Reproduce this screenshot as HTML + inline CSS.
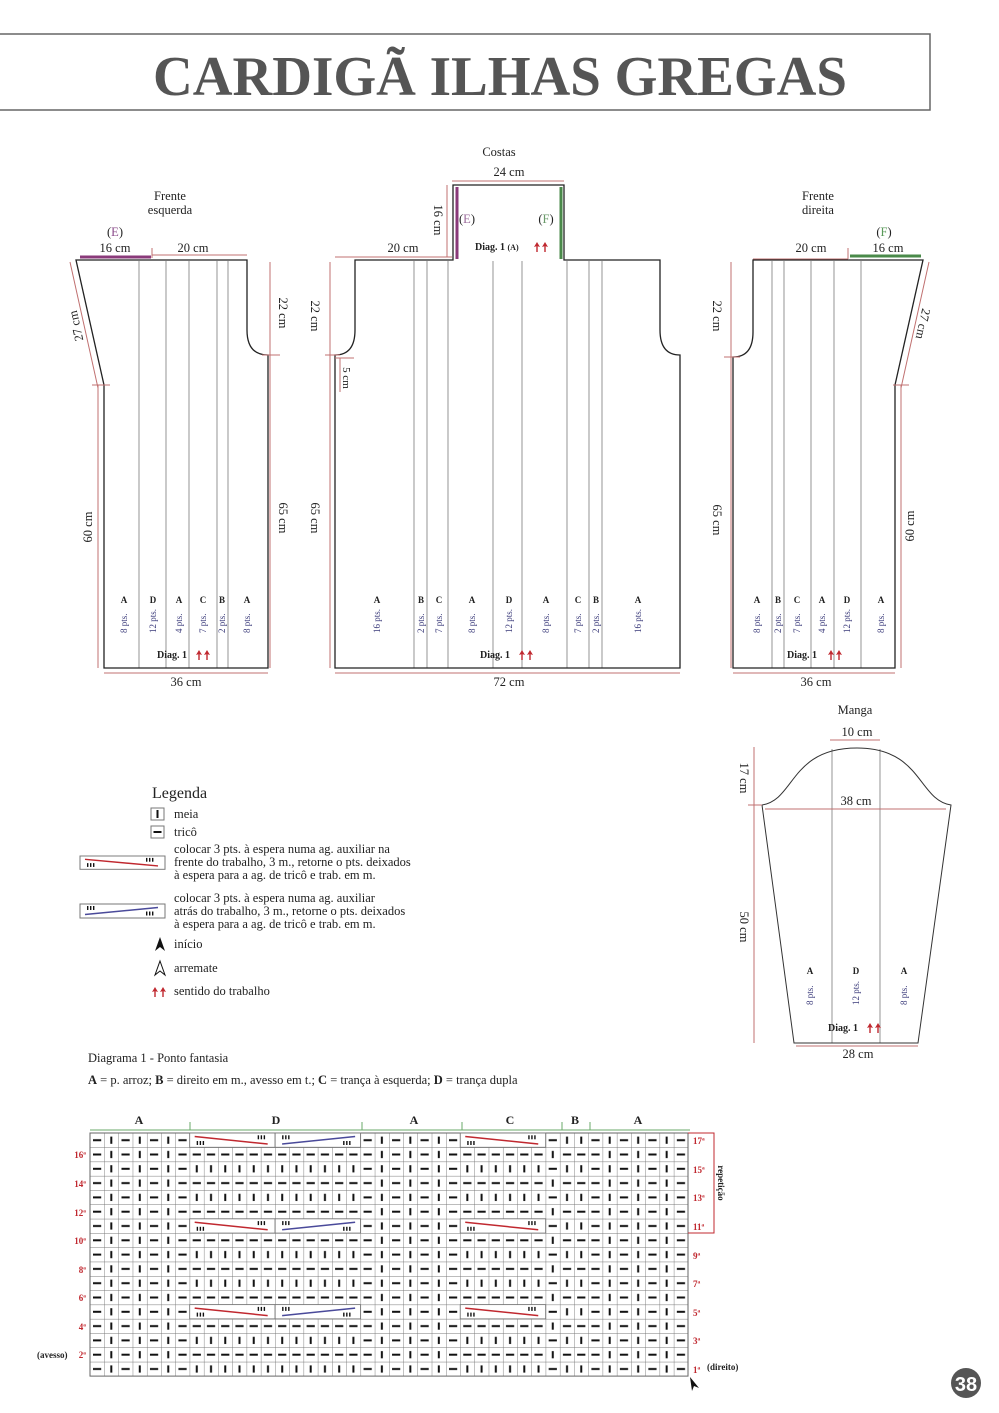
<!DOCTYPE html>
<html><head><meta charset="utf-8"><style>
html,body{margin:0;padding:0;background:#fff}
svg{display:block}
text{font-family:"Liberation Serif",serif;fill:#222}
.d{font-size:12.5px}
.b{font-weight:bold}
.p{font-size:9px;fill:#3a3a7a}
.l{font-size:9px;font-weight:bold}
.r{fill:#c0282f;font-weight:bold;font-size:9px}
</style></head><body>
<svg width="999" height="1413" viewBox="0 0 999 1413" xmlns="http://www.w3.org/2000/svg">
<defs>
<pattern id="pG" x="90" y="1133" width="14.24" height="14.3" patternUnits="userSpaceOnUse"><path d="M0,0H14.24M0,0V14.3" stroke="#777" stroke-width="0.9" fill="none"/></pattern>
<pattern id="pA0" x="90" y="1133" width="28.48" height="14.3" patternUnits="userSpaceOnUse"><rect x="3" y="6.2" width="8.2" height="2" fill="#111"/><rect x="20.3" y="3.6" width="2" height="7.2" fill="#111"/></pattern>
<pattern id="pA1" x="104.24" y="1133" width="28.48" height="14.3" patternUnits="userSpaceOnUse"><rect x="3" y="6.2" width="8.2" height="2" fill="#111"/><rect x="20.3" y="3.6" width="2" height="7.2" fill="#111"/></pattern>
<pattern id="pK" x="90" y="1133" width="14.24" height="28.6" patternUnits="userSpaceOnUse"><rect x="6.1" y="3.6" width="2" height="7.2" fill="#111"/><rect x="3" y="20.5" width="8.2" height="2" fill="#111"/></pattern>
<pattern id="pKr" x="90" y="1133" width="14.24" height="28.6" patternUnits="userSpaceOnUse"><rect x="3" y="6.2" width="8.2" height="2" fill="#111"/><rect x="6.1" y="17.9" width="2" height="7.2" fill="#111"/></pattern>
<g id="arr"><path d="M0,-5 L3,0 L0.7,-0.8 L0.7,5 L-0.7,5 L-0.7,-0.8 L-3,0 Z" fill="#c0282f"/><path d="M8,-5 L11,0 L8.7,-0.8 L8.7,5 L7.3,5 L7.3,-0.8 L5,0 Z" fill="#c0282f"/></g>
<g id="iii"><rect x="0" y="0" width="1.4" height="4" fill="#111"/><rect x="3" y="0" width="1.4" height="4" fill="#111"/><rect x="6" y="0" width="1.4" height="4" fill="#111"/></g>
<g id="cr"><rect x="0" y="0" width="85.44" height="14.3" fill="#fff" stroke="#777" stroke-width="0.9"/><line x1="5" y1="3.5" x2="78" y2="11" stroke="#c0282f" stroke-width="1.5"/><use href="#iii" x="7" y="8"/><use href="#iii" x="68" y="2.3"/></g>
<g id="cb"><rect x="0" y="0" width="85.44" height="14.3" fill="#fff" stroke="#777" stroke-width="0.9"/><line x1="7" y1="11" x2="80" y2="3.5" stroke="#4a4a9a" stroke-width="1.5"/><use href="#iii" x="7" y="2.3"/><use href="#iii" x="68" y="8"/></g>
</defs>

<!-- Title -->
<path d="M0,34 H930 V110 H0" fill="none" stroke="#666" stroke-width="1.5"/>
<text x="500" y="95" text-anchor="middle" textLength="694" lengthAdjust="spacingAndGlyphs" style="font-size:56px;font-weight:bold;fill:#555">CARDIGÃ ILHAS GREGAS</text>

<!-- ============ LEFT FRONT ============ -->
<text class="d" x="170" y="200" text-anchor="middle">Frente</text>
<text class="d" x="170" y="214" text-anchor="middle">esquerda</text>
<text class="d" x="115" y="236" text-anchor="middle"><tspan fill="#222">(</tspan><tspan style="fill:#8a4a8a">E</tspan><tspan>)</tspan></text>
<text class="d" x="115" y="252" text-anchor="middle">16 cm</text>
<text class="d" x="193" y="252" text-anchor="middle">20 cm</text>
<line x1="80" y1="257" x2="151" y2="257" stroke="#8a3a7a" stroke-width="3"/>
<line x1="152" y1="255" x2="247" y2="255" stroke="#c07070" stroke-width="1"/>
<line x1="152" y1="248" x2="152" y2="258" stroke="#c07070" stroke-width="1"/>
<g stroke="#888" stroke-width="0.9"><line x1="139" y1="261" x2="139" y2="668"/><line x1="166" y1="261" x2="166" y2="668"/><line x1="189" y1="261" x2="189" y2="668"/><line x1="217" y1="261" x2="217" y2="668"/><line x1="228" y1="261" x2="228" y2="668"/></g>
<path d="M76,260 H247 V330 Q247,355 268,355 V668 H104 V385 Z" fill="none" stroke="#222" stroke-width="1.3"/>
<g stroke="#c07070" stroke-width="1" fill="none">
<line x1="70" y1="262" x2="98" y2="388"/><line x1="92" y1="385" x2="110" y2="385"/><line x1="98" y1="385" x2="98" y2="668"/>
<line x1="270" y1="262" x2="270" y2="668"/><line x1="262" y1="355" x2="280" y2="355"/>
<line x1="104" y1="673" x2="268" y2="673"/></g>
<text class="d" transform="translate(80,325) rotate(-102.5)" text-anchor="middle">27 cm</text>
<text class="d" transform="translate(92,527) rotate(-90)" text-anchor="middle">60 cm</text>
<text class="d" transform="translate(279,313) rotate(90)" text-anchor="middle">22 cm</text>
<text class="d" transform="translate(279,518) rotate(90)" text-anchor="middle">65 cm</text>
<text class="d" x="186" y="686" text-anchor="middle">36 cm</text>
<g>
<text class="l" x="124" y="603" text-anchor="middle">A</text><text class="p" transform="translate(127,633) rotate(-90)">8 pts.</text>
<text class="l" x="153" y="603" text-anchor="middle">D</text><text class="p" transform="translate(156,633) rotate(-90)">12 pts.</text>
<text class="l" x="179" y="603" text-anchor="middle">A</text><text class="p" transform="translate(182,633) rotate(-90)">4 pts.</text>
<text class="l" x="203" y="603" text-anchor="middle">C</text><text class="p" transform="translate(206,633) rotate(-90)">7 pts.</text>
<text class="l" x="222" y="603" text-anchor="middle">B</text><text class="p" transform="translate(225,633) rotate(-90)">2 pts.</text>
<text class="l" x="247" y="603" text-anchor="middle">A</text><text class="p" transform="translate(250,633) rotate(-90)">8 pts.</text>
</g>
<text class="l" x="157" y="658" style="font-size:10px">Diag. 1</text><use href="#arr" x="199" y="655"/>

<!-- ============ BACK ============ -->
<text class="d" x="499" y="156" text-anchor="middle">Costas</text>
<text class="d" x="509" y="176" text-anchor="middle">24 cm</text>
<line x1="452" y1="181" x2="564" y2="181" stroke="#c07070"/>
<line x1="447" y1="185" x2="447" y2="257" stroke="#c07070"/>
<text class="d" transform="translate(434,220) rotate(90)" text-anchor="middle">16 cm</text>
<line x1="335" y1="257" x2="452" y2="257" stroke="#c07070"/>
<text class="d" x="403" y="252" text-anchor="middle">20 cm</text>
<g stroke="#888" stroke-width="0.9"><line x1="414" y1="261" x2="414" y2="668"/><line x1="427" y1="261" x2="427" y2="668"/><line x1="448" y1="261" x2="448" y2="668"/><line x1="493" y1="261" x2="493" y2="668"/><line x1="522" y1="261" x2="522" y2="668"/><line x1="567" y1="261" x2="567" y2="668"/><line x1="589" y1="261" x2="589" y2="668"/><line x1="602" y1="261" x2="602" y2="668"/></g>
<path d="M355,260 H453 V185 H564 V260 H660 V330 Q660,355 680,355 V668 H335 V355 Q355,355 355,330 Z" fill="none" stroke="#222" stroke-width="1.3"/>
<line x1="457" y1="187" x2="457" y2="259" stroke="#8a3a7a" stroke-width="3"/>
<line x1="561" y1="187" x2="561" y2="259" stroke="#4a8a4a" stroke-width="3"/>
<text class="d" x="467" y="223" text-anchor="middle">(<tspan style="fill:#9a6a9a">E</tspan>)</text>
<text class="d" x="546" y="223" text-anchor="middle">(<tspan style="fill:#6a9a6a">F</tspan>)</text>
<text class="l" x="475" y="250" style="font-size:10px">Diag. 1 <tspan style="font-size:8px">(A)</tspan></text><use href="#arr" x="537" y="247"/>
<g stroke="#c07070" stroke-width="1"><line x1="330" y1="262" x2="330" y2="668"/><line x1="325" y1="355" x2="340" y2="355"/><line x1="340" y1="358" x2="340" y2="392"/><line x1="335" y1="358" x2="354" y2="358"/><line x1="335" y1="673" x2="680" y2="673"/></g>
<text class="d" transform="translate(311,316) rotate(90)" text-anchor="middle">22 cm</text>
<text class="d" transform="translate(343,378) rotate(90)" text-anchor="middle" style="font-size:11px">5 cm</text>
<text class="d" transform="translate(311,518) rotate(90)" text-anchor="middle">65 cm</text>
<text class="d" x="509" y="686" text-anchor="middle">72 cm</text>
<g>
<text class="l" x="377" y="603" text-anchor="middle">A</text><text class="p" transform="translate(380,633) rotate(-90)">16 pts.</text>
<text class="l" x="421" y="603" text-anchor="middle">B</text><text class="p" transform="translate(424,633) rotate(-90)">2 pts.</text>
<text class="l" x="439" y="603" text-anchor="middle">C</text><text class="p" transform="translate(442,633) rotate(-90)">7 pts.</text>
<text class="l" x="472" y="603" text-anchor="middle">A</text><text class="p" transform="translate(475,633) rotate(-90)">8 pts.</text>
<text class="l" x="509" y="603" text-anchor="middle">D</text><text class="p" transform="translate(512,633) rotate(-90)">12 pts.</text>
<text class="l" x="546" y="603" text-anchor="middle">A</text><text class="p" transform="translate(549,633) rotate(-90)">8 pts.</text>
<text class="l" x="578" y="603" text-anchor="middle">C</text><text class="p" transform="translate(581,633) rotate(-90)">7 pts.</text>
<text class="l" x="596" y="603" text-anchor="middle">B</text><text class="p" transform="translate(599,633) rotate(-90)">2 pts.</text>
<text class="l" x="638" y="603" text-anchor="middle">A</text><text class="p" transform="translate(641,633) rotate(-90)">16 pts.</text>
</g>
<text class="l" x="480" y="658" style="font-size:10px">Diag. 1</text><use href="#arr" x="522" y="655"/>

<!-- ============ RIGHT FRONT ============ -->
<text class="d" x="818" y="200" text-anchor="middle">Frente</text>
<text class="d" x="818" y="214" text-anchor="middle">direita</text>
<text class="d" x="884" y="236" text-anchor="middle">(<tspan style="fill:#5a9a5a">F</tspan>)</text>
<text class="d" x="811" y="252" text-anchor="middle">20 cm</text>
<text class="d" x="888" y="252" text-anchor="middle">16 cm</text>
<line x1="753" y1="259" x2="848" y2="259" stroke="#c07070"/>
<line x1="848" y1="248" x2="848" y2="259" stroke="#c07070"/>
<line x1="850" y1="256" x2="921" y2="256" stroke="#4a8a4a" stroke-width="3"/>
<g stroke="#888" stroke-width="0.9"><line x1="772" y1="261" x2="772" y2="668"/><line x1="784" y1="261" x2="784" y2="668"/><line x1="811" y1="261" x2="811" y2="668"/><line x1="834" y1="261" x2="834" y2="668"/><line x1="861" y1="261" x2="861" y2="668"/></g>
<path d="M753,260 H923 L895,385 V668 H733 V357 Q753,357 753,332 Z" fill="none" stroke="#222" stroke-width="1.3"/>
<g stroke="#c07070" stroke-width="1"><line x1="731" y1="262" x2="731" y2="668"/><line x1="724" y1="357" x2="740" y2="357"/><line x1="929" y1="262" x2="901" y2="388"/><line x1="893" y1="385" x2="909" y2="385"/><line x1="901" y1="385" x2="901" y2="668"/><line x1="733" y1="673" x2="895" y2="673"/></g>
<text class="d" transform="translate(713,316) rotate(90)" text-anchor="middle">22 cm</text>
<text class="d" transform="translate(713,520) rotate(90)" text-anchor="middle">65 cm</text>
<text class="d" transform="translate(919,323) rotate(102.5)" text-anchor="middle">27 cm</text>
<text class="d" transform="translate(914,526) rotate(-90)" text-anchor="middle">60 cm</text>
<text class="d" x="816" y="686" text-anchor="middle">36 cm</text>
<g>
<text class="l" x="757" y="603" text-anchor="middle">A</text><text class="p" transform="translate(760,633) rotate(-90)">8 pts.</text>
<text class="l" x="778" y="603" text-anchor="middle">B</text><text class="p" transform="translate(781,633) rotate(-90)">2 pts.</text>
<text class="l" x="797" y="603" text-anchor="middle">C</text><text class="p" transform="translate(800,633) rotate(-90)">7 pts.</text>
<text class="l" x="822" y="603" text-anchor="middle">A</text><text class="p" transform="translate(825,633) rotate(-90)">4 pts.</text>
<text class="l" x="847" y="603" text-anchor="middle">D</text><text class="p" transform="translate(850,633) rotate(-90)">12 pts.</text>
<text class="l" x="881" y="603" text-anchor="middle">A</text><text class="p" transform="translate(884,633) rotate(-90)">8 pts.</text>
</g>
<text class="l" x="787" y="658" style="font-size:10px">Diag. 1</text><use href="#arr" x="831" y="655"/>

<!-- ============ SLEEVE ============ -->
<text class="d" x="855" y="714" text-anchor="middle">Manga</text>
<text class="d" x="857" y="736" text-anchor="middle">10 cm</text>
<line x1="830" y1="740" x2="880" y2="740" stroke="#c07070"/>
<g stroke="#888" stroke-width="0.9"><line x1="832" y1="749" x2="832" y2="1043"/><line x1="880" y1="749" x2="880" y2="1043"/></g>
<path d="M762,805 C795,800 790,748 857,748 C922,748 918,800 951,805 L918,1043 H794 Z" fill="none" stroke="#333" stroke-width="1"/>
<g stroke="#c07070" stroke-width="1"><line x1="765" y1="809" x2="946" y2="809"/><line x1="754" y1="747" x2="754" y2="1043"/><line x1="748" y1="805" x2="762" y2="805"/><line x1="796" y1="1046" x2="918" y2="1046"/></g>
<text class="d" x="856" y="805" text-anchor="middle">38 cm</text>
<text class="d" transform="translate(740,778) rotate(90)" text-anchor="middle">17 cm</text>
<text class="d" transform="translate(740,927) rotate(90)" text-anchor="middle">50 cm</text>
<text class="d" x="858" y="1058" text-anchor="middle">28 cm</text>
<text class="l" x="810" y="974" text-anchor="middle">A</text><text class="p" transform="translate(813,1005) rotate(-90)">8 pts.</text>
<text class="l" x="856" y="974" text-anchor="middle">D</text><text class="p" transform="translate(859,1005) rotate(-90)">12 pts.</text>
<text class="l" x="904" y="974" text-anchor="middle">A</text><text class="p" transform="translate(907,1005) rotate(-90)">8 pts.</text>
<text class="l" x="828" y="1031" style="font-size:10px">Diag. 1</text><use href="#arr" x="870" y="1028"/>

<!-- ============ LEGEND ============ -->
<text x="152" y="798" style="font-size:16px">Legenda</text>
<rect x="151" y="808" width="13" height="12" fill="#fff" stroke="#777"/><rect x="156.5" y="810" width="2" height="8" fill="#111"/>
<text class="d" x="174" y="818">meia</text>
<rect x="151" y="826" width="13" height="12" fill="#fff" stroke="#777"/><rect x="153.5" y="831" width="8" height="2" fill="#111"/>
<text class="d" x="174" y="836">tricô</text>
<g transform="translate(80,856) scale(1,0.95)"><rect x="0" y="0" width="85" height="14" fill="#fff" stroke="#777"/><line x1="5" y1="3.5" x2="78" y2="10.5" stroke="#c0282f" stroke-width="1.5"/><use href="#iii" x="7" y="7.5"/><use href="#iii" x="66" y="2"/></g>
<text class="d" x="174" y="853">colocar 3 pts. à espera numa ag. auxiliar na</text>
<text class="d" x="174" y="866">frente do trabalho, 3 m., retorne o pts. deixados</text>
<text class="d" x="174" y="879">à espera para a ag. de tricô e trab. em m.</text>
<g transform="translate(80,904)"><rect x="0" y="0" width="85" height="14" fill="#fff" stroke="#777"/><line x1="5" y1="10.5" x2="78" y2="3.5" stroke="#4a4a9a" stroke-width="1.5"/><use href="#iii" x="7" y="2"/><use href="#iii" x="66" y="7.5"/></g>
<text class="d" x="174" y="902">colocar 3 pts. à espera numa ag. auxiliar</text>
<text class="d" x="174" y="915">atrás do trabalho, 3 m., retorne o pts. deixados</text>
<text class="d" x="174" y="928">à espera para a ag. de tricô e trab. em m.</text>
<path d="M160,937 L165,951 L160,947 L155,951 Z" fill="#111"/>
<text class="d" x="174" y="948">início</text>
<path d="M160,961 L165,975 L160,971 L155,975 Z" fill="#fff" stroke="#111" stroke-width="1"/>
<text class="d" x="174" y="972">arremate</text>
<use href="#arr" x="155" y="992" transform="translate(0,0)"/>
<text class="d" x="174" y="995">sentido do trabalho</text>

<!-- ============ DIAGRAM 1 ============ -->
<text class="d" x="88" y="1062">Diagrama 1 - Ponto fantasia</text>
<text class="d" x="88" y="1084"><tspan class="b">A</tspan> = p. arroz; <tspan class="b">B</tspan> = direito em m., avesso em t.; <tspan class="b">C</tspan> = trança à esquerda; <tspan class="b">D</tspan> = trança dupla</text>

<g style="font-size:12px;font-weight:bold">
<text x="139" y="1124" text-anchor="middle">A</text><text x="276" y="1124" text-anchor="middle">D</text><text x="414" y="1124" text-anchor="middle">A</text><text x="510" y="1124" text-anchor="middle">C</text><text x="575" y="1124" text-anchor="middle">B</text><text x="638" y="1124" text-anchor="middle">A</text>
</g>
<g stroke="#6aaa6a" stroke-width="1"><line x1="90" y1="1130" x2="690" y2="1130"/><line x1="190" y1="1122" x2="190" y2="1130"/><line x1="362" y1="1122" x2="362" y2="1130"/><line x1="462" y1="1122" x2="462" y2="1130"/><line x1="562" y1="1122" x2="562" y2="1130"/><line x1="590" y1="1122" x2="590" y2="1130"/></g>

<rect x="90" y="1133" width="598" height="243.1" fill="url(#pG)"/>
<rect x="90" y="1133" width="99.68" height="243.1" fill="url(#pA0)"/>
<rect x="360.56" y="1133" width="99.68" height="243.1" fill="url(#pA1)"/>
<rect x="588.4" y="1133" width="99.68" height="243.1" fill="url(#pA1)"/>
<rect x="189.68" y="1133" width="170.88" height="243.1" fill="url(#pK)"/>
<rect x="460.24" y="1133" width="85.44" height="243.1" fill="url(#pK)"/>
<rect x="559.92" y="1133" width="28.48" height="243.1" fill="url(#pK)"/>
<rect x="545.68" y="1133" width="14.24" height="243.1" fill="url(#pKr)"/>
<rect x="90" y="1133" width="598" height="243.1" fill="none" stroke="#666" stroke-width="1"/>
<use href="#cr" x="189.68" y="1133"/><use href="#cb" x="275.12" y="1133"/><use href="#cr" x="460.24" y="1133"/>
<use href="#cr" x="189.68" y="1218.8"/><use href="#cb" x="275.12" y="1218.8"/><use href="#cr" x="460.24" y="1218.8"/>
<use href="#cr" x="189.68" y="1304.6"/><use href="#cb" x="275.12" y="1304.6"/><use href="#cr" x="460.24" y="1304.6"/>

<g class="r">
<text class="r" x="693" y="1144">17ª</text><text class="r" x="693" y="1173">15ª</text><text class="r" x="693" y="1201">13ª</text><text class="r" x="693" y="1230">11ª</text><text class="r" x="693" y="1259">9ª</text><text class="r" x="693" y="1287">7ª</text><text class="r" x="693" y="1316">5ª</text><text class="r" x="693" y="1344">3ª</text><text class="r" x="693" y="1373">1ª</text>
<text class="r" x="86" y="1158" text-anchor="end">16ª</text><text class="r" x="86" y="1187" text-anchor="end">14ª</text><text class="r" x="86" y="1216" text-anchor="end">12ª</text><text class="r" x="86" y="1244" text-anchor="end">10ª</text><text class="r" x="86" y="1273" text-anchor="end">8ª</text><text class="r" x="86" y="1301" text-anchor="end">6ª</text><text class="r" x="86" y="1330" text-anchor="end">4ª</text><text class="r" x="86" y="1358" text-anchor="end">2ª</text>
</g>
<path d="M688,1133 H714 V1233 H688" fill="none" stroke="#c0282f" stroke-width="1"/>
<text class="l" transform="translate(718,1183) rotate(90)" text-anchor="middle" style="font-size:9px">repetição</text>
<text x="37" y="1358" style="font-size:9px;font-weight:bold">(avesso)</text>
<text x="707" y="1370" style="font-size:9px;font-weight:bold">(direito)</text>
<path d="M690,1377 L699,1388 L694,1386 L692,1391 Z" fill="#111"/>

<!-- page number -->
<circle cx="966" cy="1383" r="15" fill="#555"/>
<text x="966" y="1391" text-anchor="middle" style="font-family:'Liberation Sans',sans-serif;font-size:20px;font-weight:bold;fill:#fff">38</text>
</svg>
</body></html>
